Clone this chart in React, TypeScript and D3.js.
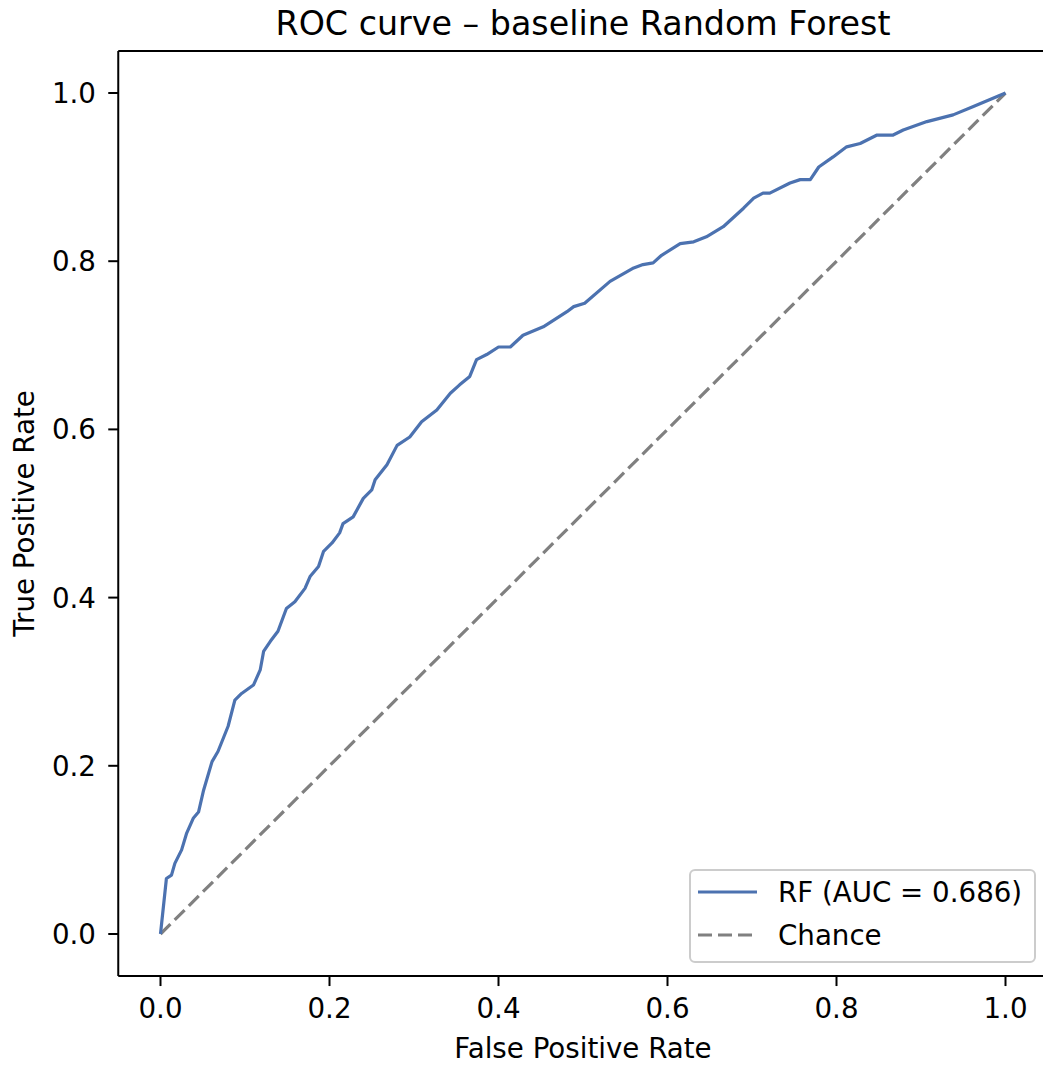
import React from "react";
import * as d3 from "d3";

const fprValues = [0, 0.007, 0.013, 0.017, 0.025, 0.031, 0.039, 0.045, 0.051, 0.061, 0.068, 0.080, 0.088, 0.096, 0.110, 0.118, 0.122, 0.130, 0.139, 0.149, 0.159, 0.171, 0.177, 0.187, 0.193, 0.203, 0.212, 0.216, 0.228, 0.240, 0.250, 0.254, 0.268, 0.280, 0.295, 0.309, 0.327, 0.343, 0.354, 0.366, 0.374, 0.386, 0.400, 0.414, 0.429, 0.453, 0.481, 0.489, 0.502, 0.532, 0.560, 0.571, 0.583, 0.593, 0.615, 0.631, 0.646, 0.666, 0.690, 0.702, 0.713, 0.721, 0.745, 0.757, 0.769, 0.779, 0.796, 0.812, 0.828, 0.848, 0.867, 0.879, 0.907, 0.938, 0.962, 1.0];
const tprValues = [0, 0.066, 0.070, 0.084, 0.100, 0.120, 0.138, 0.145, 0.171, 0.205, 0.217, 0.247, 0.278, 0.286, 0.296, 0.314, 0.336, 0.348, 0.360, 0.387, 0.395, 0.411, 0.425, 0.437, 0.455, 0.465, 0.477, 0.488, 0.496, 0.518, 0.528, 0.540, 0.558, 0.581, 0.591, 0.609, 0.623, 0.643, 0.653, 0.663, 0.683, 0.689, 0.698, 0.698, 0.712, 0.722, 0.740, 0.746, 0.750, 0.776, 0.792, 0.796, 0.798, 0.807, 0.821, 0.823, 0.829, 0.841, 0.863, 0.875, 0.881, 0.881, 0.893, 0.897, 0.897, 0.912, 0.924, 0.936, 0.940, 0.950, 0.950, 0.956, 0.966, 0.974, 0.984, 1.0];
const chanceValues = [0, 1];
const tickValues = [0.0, 0.2, 0.4, 0.6, 0.8, 1.0];
const titleText = "ROC curve – baseline Random Forest";
const xLabel = "False Positive Rate";
const yLabel = "True Positive Rate";
const legendLabels = ["RF (AUC = 0.686)", "Chance"];

const FONT = "DejaVu Sans, sans-serif";
const BLUE = "#4c72b0";
const GRAY = "#808080";
const FS = 27.7;

export default function App() {
  const x = d3.scaleLinear().domain([-0.05, 1.05]).range([118.25, 1047.75]);
  const y = d3.scaleLinear().domain([-0.05, 1.05]).range([976.05, 50.95]);
  const rocPts: [number, number][] = fprValues.map((f, i) => [f, tprValues[i]]);
  const chancePts: [number, number][] = chanceValues.map((v) => [v, v]);
  const line = d3
    .line<[number, number]>()
    .x((d) => x(d[0]))
    .y((d) => y(d[1]));

  const left = x(-0.05);
  const right = x(1.05);
  const top = y(1.05);
  const bottom = y(-0.05);

  return (
    <svg
      width={1043}
      height={1066}
      style={{ position: "absolute", left: 0, top: 0, background: "#fff" }}
      fontFamily={FONT}
    >
      <rect x={0} y={0} width={1043} height={1066} fill="#fff" />
      <defs>
        <clipPath id="plotclip">
          <rect x={left} y={top} width={right - left} height={bottom - top} />
        </clipPath>
      </defs>
      <g clipPath="url(#plotclip)">
        <path
          d={line(chancePts) || ""}
          fill="none"
          stroke={GRAY}
          strokeWidth={3.2}
          strokeDasharray="14 6"
        />
        <path
          d={line(rocPts) || ""}
          fill="none"
          stroke={BLUE}
          strokeWidth={3.2}
          strokeLinejoin="round"
        />
      </g>
      {/* spines */}
      <line x1={left} x2={left} y1={top} y2={bottom} stroke="#000" strokeWidth={2} />
      <line x1={left} x2={right} y1={bottom} y2={bottom} stroke="#000" strokeWidth={2} />
      <line x1={left} x2={right} y1={top} y2={top} stroke="#000" strokeWidth={2} />
      <line x1={right} x2={right} y1={top} y2={bottom} stroke="#000" strokeWidth={2} />
      {/* x ticks */}
      {tickValues.map((t) => (
        <g key={"x" + t}>
          <line x1={x(t)} x2={x(t)} y1={bottom} y2={bottom + 10} stroke="#000" strokeWidth={2} />
          <text x={x(t)} y={1018} textAnchor="middle" fontSize={FS} fill="#000">
            {t.toFixed(1)}
          </text>
        </g>
      ))}
      {/* y ticks */}
      {tickValues.map((t) => (
        <g key={"y" + t}>
          <line x1={left - 10} x2={left} y1={y(t)} y2={y(t)} stroke="#000" strokeWidth={2} />
          <text x={96} y={y(t) + 10} textAnchor="end" fontSize={FS} fill="#000">
            {t.toFixed(1)}
          </text>
        </g>
      ))}
      <text x={(left + right) / 2} y={35} textAnchor="middle" fontSize={33.3} fill="#000">
        {titleText}
      </text>
      <text x={(left + right) / 2} y={1058} textAnchor="middle" fontSize={FS} fill="#000">
        {xLabel}
      </text>
      <text
        transform={`translate(34,${(top + bottom) / 2}) rotate(-90)`}
        textAnchor="middle"
        fontSize={FS}
        fill="#000"
      >
        {yLabel}
      </text>
      {/* legend */}
      <rect
        x={690}
        y={870}
        width={345}
        height={92}
        rx={5}
        fill="#fff"
        fillOpacity={0.8}
        stroke="#cccccc"
        strokeWidth={2}
      />
      <line x1={698} x2={757} y1={892} y2={892} stroke={BLUE} strokeWidth={3.2} />
      <line x1={698} x2={757} y1={935} y2={935} stroke={GRAY} strokeWidth={3.2} strokeDasharray="14 6" />
      <text x={778} y={902} fontSize={FS} fill="#000">
        {legendLabels[0]}
      </text>
      <text x={778} y={945} fontSize={FS} fill="#000">
        {legendLabels[1]}
      </text>
    </svg>
  );
}
